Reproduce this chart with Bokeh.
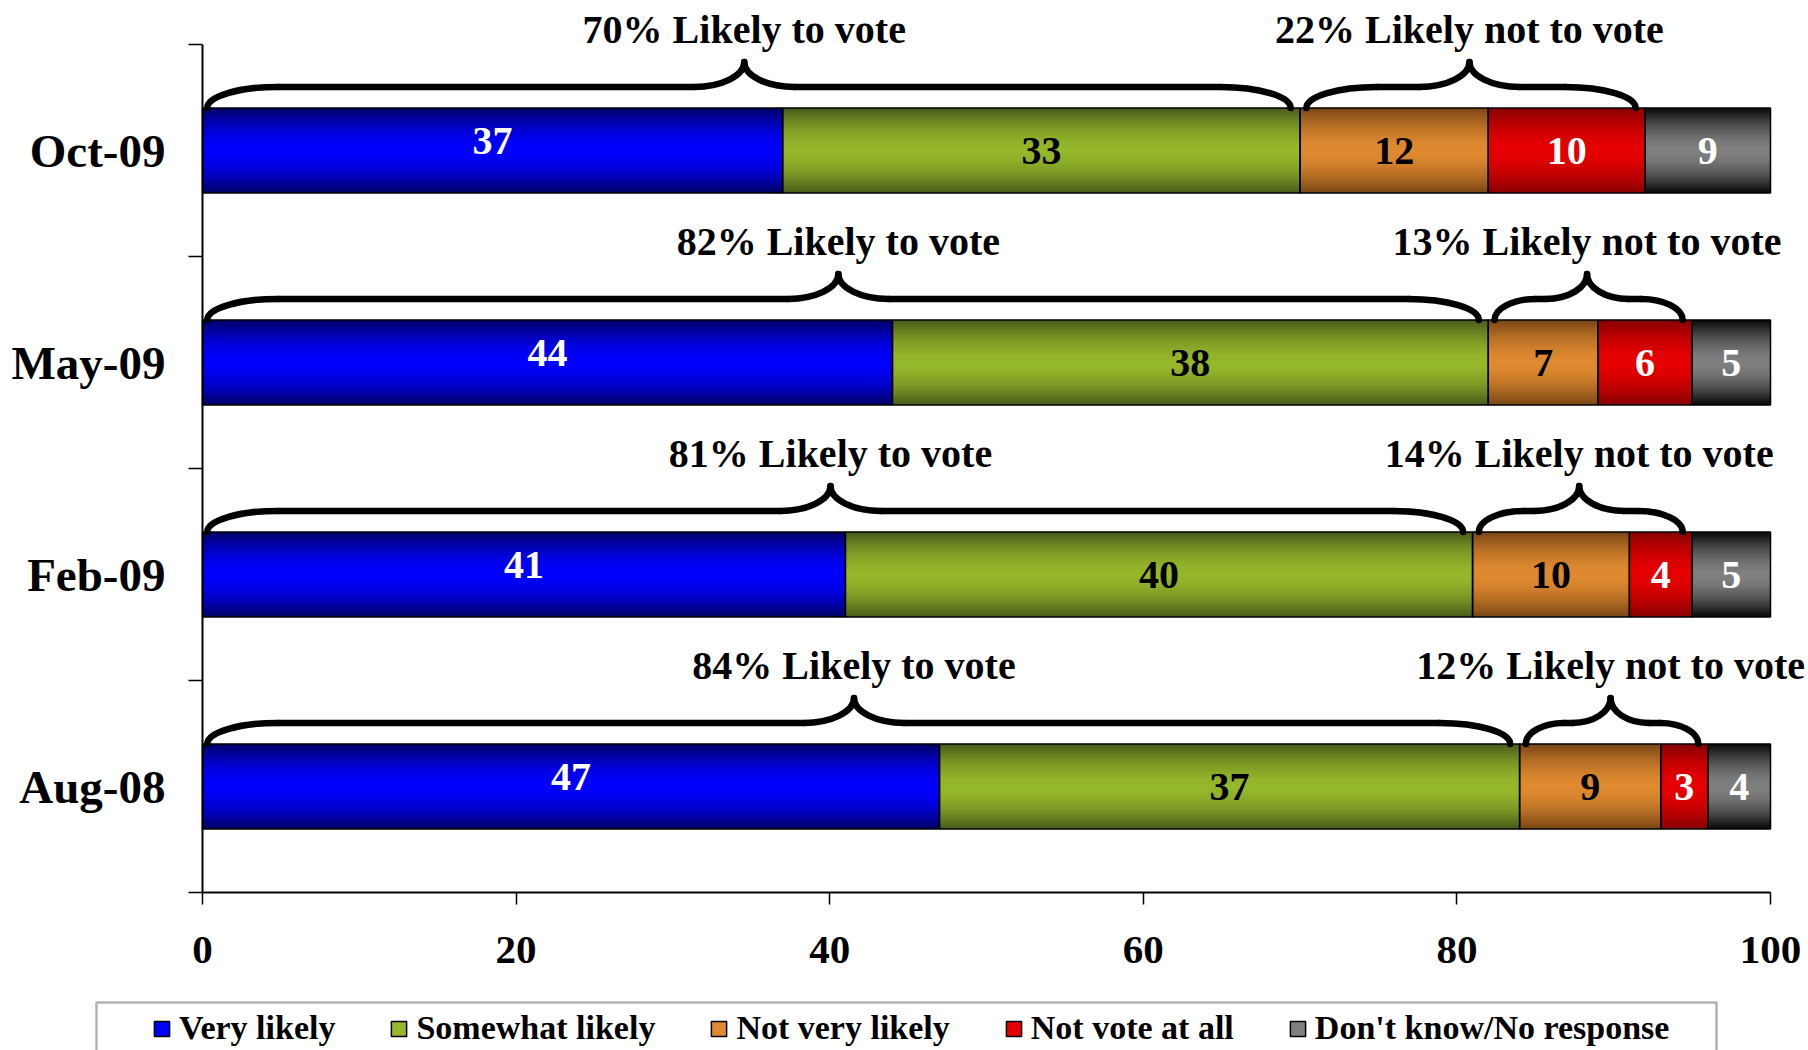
from bokeh.plotting import figure
from bokeh.models import Range1d, FixedTicker, Legend, LegendItem, ColumnDataSource, BoxAnnotation
from bokeh.core.properties import value
from bokeh.embed import file_html
from bokeh.resources import INLINE

# ---------------- data ----------------
categories = ["Oct-09", "May-09", "Feb-09", "Aug-08"]
series_names = ["Very likely", "Somewhat likely", "Not very likely",
                "Not vote at all", "Don't know/No response"]
very_likely = [37, 44, 41, 47]
somewhat_likely = [33, 38, 40, 37]
not_very_likely = [12, 7, 10, 9]
not_vote_at_all = [10, 6, 4, 3]
dont_know = [9, 5, 5, 4]
x_ticks = [0, 20, 40, 60, 80, 100]

# ---------------- styles / layout ----------------
series = [very_likely, somewhat_likely, not_very_likely, not_vote_at_all, dont_know]
center_colors = ["#0000FF", "#96B82B", "#E08A30", "#E60000", "#808080"]
edge_colors = ["#000066", "#4A5D1B", "#7A4715", "#880000", "#0A0A0A"]
label_colors = ["white", "black", "black", "white", "white"]
FONT = "Liberation Serif"
BAR_H = 0.4
N_LAYERS = 40

W, H = 1808, 1050
PX_X0 = 202.0       # screen x of value 0
PX_PER_X = 15.68    # pixels per percentage point
PX_Y0 = 892.0       # screen y of the bottom of the category axis
PX_PER_Y = 212.0    # pixels per category band

n = len(categories)
ypos = [n - i - 0.5 for i in range(n)]


def sx_to_x(sx):
    return (sx - PX_X0) / PX_PER_X


def sy_to_y(sy):
    return (PX_Y0 - sy) / PX_PER_Y


def hex2rgb(h):
    h = h.lstrip("#")
    return tuple(int(h[i:i + 2], 16) for i in (0, 2, 4))


def mix(c1, c2, m):
    a, b = hex2rgb(c1), hex2rgb(c2)
    return "#%02x%02x%02x" % tuple(int(round(a[i] * (1 - m) + b[i] * m)) for i in range(3))


# cumulative extents
lefts, rights = [], []
cum = [0.0] * n
for vals in series:
    lefts.append(list(cum))
    rights.append([min(cum[i] + vals[i], 100) for i in range(n)])
    cum = [cum[i] + vals[i] for i in range(n)]

p = figure(width=W, height=H, output_backend="svg", toolbar_location=None,
           x_range=Range1d(sx_to_x(0), sx_to_x(W)),
           y_range=Range1d(sy_to_y(H), sy_to_y(0)),
           min_border_left=0, min_border_right=0, min_border_top=0, min_border_bottom=0)
p.outline_line_color = None
p.xgrid.grid_line_color = None
p.ygrid.grid_line_color = None
p.background_fill_color = "white"
p.border_fill_color = "white"

# gradient bars: concentric layers, dark at the edges, bright in the middle
grad = dict(y=[], left=[], right=[], h=[], color=[])
for j in range(len(series)):
    for k in range(N_LAYERS):
        t = 1 - k / N_LAYERS
        m = t ** 1.7
        for i in range(n):
            grad["y"].append(ypos[i])
            grad["left"].append(lefts[j][i])
            grad["right"].append(rights[j][i])
            grad["h"].append(BAR_H * t)
            grad["color"].append(mix(center_colors[j], edge_colors[j], m))
p.hbar(y="y", left="left", right="right", height="h",
       fill_color="color", line_color=None, source=ColumnDataSource(grad))

# outlines
for j in range(len(series)):
    p.hbar(y=ypos, left=lefts[j], right=rights[j], height=BAR_H,
           fill_color=None, line_color="black", line_width=1.5)

# value labels
for j, vals in enumerate(series):
    xs = [(lefts[j][i] + rights[j][i]) / 2 for i in range(n)]
    p.text(x=xs, y=ypos, text=[str(v) for v in vals],
           text_font=value(FONT), text_font_style="bold", text_font_size="40px",
           text_color=label_colors[j], text_align="center", text_baseline="middle",
           y_offset=-10 if j == 0 else 0)

# braces + annotation texts
likely = [very_likely[i] + somewhat_likely[i] for i in range(n)]
not_likely = [not_very_likely[i] + not_vote_at_all[i] for i in range(n)]

bz = dict(x0=[], y0=[], x1=[], y1=[], cx0=[], cy0=[], cx1=[], cy1=[])
sg = dict(x0=[], y0=[], x1=[], y1=[])
tx = dict(x=[], y=[], text=[])


def add_brace(s, e, yb, shift=0.0):
    yl = yb + 0.10
    yt = yb + 0.217
    span = e - s
    tip = (s + e) / 2 + shift
    w = min(4.5, span * 0.22)
    tw = min(3.2, span * 0.22)
    k = 0.552
    for (a0, b0, c0x, c0y, c1x, c1y, a1, b1) in [
        (s, yb, s, yb + k * (yl - yb), s + (1 - k) * w, yl, s + w, yl),
        (e, yb, e, yb + k * (yl - yb), e - (1 - k) * w, yl, e - w, yl),
        (tip - tw, yl, tip - tw + k * tw, yl, tip, yl + (1 - k) * (yt - yl), tip, yt),
        (tip + tw, yl, tip + tw - k * tw, yl, tip, yl + (1 - k) * (yt - yl), tip, yt),
    ]:
        bz["x0"].append(a0); bz["y0"].append(b0)
        bz["cx0"].append(c0x); bz["cy0"].append(c0y)
        bz["cx1"].append(c1x); bz["cy1"].append(c1y)
        bz["x1"].append(a1); bz["y1"].append(b1)
    for (a0, a1) in [(s + w, tip - tw), (tip + tw, e - w)]:
        if a1 > a0:
            sg["x0"].append(a0); sg["x1"].append(a1)
            sg["y0"].append(yl); sg["y1"].append(yl)
    return tip


for i in range(n):
    yb = ypos[i] + BAR_H / 2
    t1 = add_brace(0.3, likely[i] - 0.6, yb, shift=-0.3)
    t2 = add_brace(likely[i] + 0.4, likely[i] + not_likely[i] - 0.6, yb, shift=-0.1)
    ytext = yb + 0.37
    tx["x"] += [t1, t2]
    tx["y"] += [ytext, ytext]
    tx["text"] += ["%d%% Likely to vote" % likely[i],
                   "%d%% Likely not to vote" % not_likely[i]]

p.bezier(x0="x0", y0="y0", x1="x1", y1="y1", cx0="cx0", cy0="cy0", cx1="cx1", cy1="cy1",
         line_color="black", line_width=6.5, line_cap="round", source=ColumnDataSource(bz))
p.segment(x0="x0", y0="y0", x1="x1", y1="y1", line_color="black", line_width=6.5,
          line_cap="round", source=ColumnDataSource(sg))
p.text(x="x", y="y", text="text", text_font=value(FONT), text_font_style="bold",
       text_font_size="40px", text_color="black", text_align="center",
       text_baseline="middle", source=ColumnDataSource(tx))

# axes (fixed at the data origin, inside the frame)
xa = p.xaxis[0]
xa.fixed_location = 0
xa.ticker = FixedTicker(ticks=x_ticks)
xa.bounds = (0, 100)
xa.axis_line_width = 2
xa.axis_line_color = "black"
xa.major_tick_out = 12
xa.major_tick_in = 0
xa.major_tick_line_width = 1.5
xa.minor_tick_out = 0
xa.minor_tick_in = 0
xa.major_label_standoff = 32
xa.major_label_text_font = FONT
xa.major_label_text_font_style = "bold"
xa.major_label_text_font_size = "41px"
xa.major_label_text_color = "black"

ya = p.yaxis[0]
ya.fixed_location = 0
ya.ticker = FixedTicker(ticks=ypos, minor_ticks=list(range(n + 1)))
ya.bounds = (0, n)
ya.major_label_overrides = {ypos[i]: categories[i] for i in range(n)}
ya.axis_line_width = 2
ya.axis_line_color = "black"
ya.major_tick_out = 0
ya.major_tick_in = 0
ya.minor_tick_out = 14
ya.minor_tick_in = 0
ya.minor_tick_line_width = 1.5
ya.minor_tick_line_color = "black"
ya.major_label_standoff = 23
ya.major_label_text_font = FONT
ya.major_label_text_font_style = "bold"
ya.major_label_text_font_size = "47px"
ya.major_label_text_color = "black"

# legend frame
box = BoxAnnotation(left=sx_to_x(96), right=sx_to_x(1716),
                    top=sy_to_y(1002), bottom=sy_to_y(H + 40),
                    fill_color="white", fill_alpha=1.0,
                    line_color="black", line_width=2.5)
p.add_layout(box)

# legend (swatch renderers hold one point far outside the visible range)
items = []
for j, name in enumerate(series_names):
    r = p.hbar(y=[-50], left=[0], right=[1], height=0.1,
               fill_color=center_colors[j], line_color="black", line_width=1.5)
    items.append(LegendItem(label=name, renderers=[r]))

legend = Legend(items=items, orientation="horizontal", location=(152, 3),
                glyph_width=19, glyph_height=19, label_standoff=8, spacing=54,
                padding=0, margin=0,
                border_line_color=None, background_fill_alpha=0.0,
                label_text_font=FONT, label_text_font_style="bold",
                label_text_font_size="34px", label_text_color="black")
p.add_layout(legend)

open("out.html", "w").write(file_html(p, INLINE))
